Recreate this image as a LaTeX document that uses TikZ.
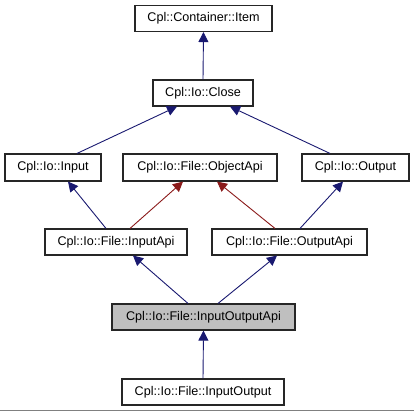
\documentclass[tikz,border=0pt]{standalone}
\usepackage{fontspec}
\setmainfont{Liberation Sans}
\usetikzlibrary{arrows.meta}
\definecolor{edgeblue}{HTML}{191970}
\definecolor{edgered}{HTML}{8B1A1A}
\begin{document}
\begin{tikzpicture}[x=1pt,y=-1pt,
  cls/.style={draw=black!85,line width=1.1pt,fill=white,inner sep=0pt,font=\fontsize{12.6}{14}\selectfont,minimum height=26pt},
  cur/.style={cls,fill=black!25},
  pub/.style={draw=edgeblue,line width=0.9pt,-{Triangle[length=10pt,width=10pt]}},
  prot/.style={draw=edgered,line width=0.9pt,-{Triangle[length=10pt,width=10pt]},edgered}]
\useasboundingbox (0,0) rectangle (414,411);
\draw[black!50,line width=1pt] (0,410) -- (414,410);
\node[cls,minimum width=137pt] (item) at (203.5,18.5) {Cpl::Container::Item};
\node[cls,minimum width=100pt] (close) at (203,93) {Cpl::Io::Close};
\node[cls,minimum width=96pt,minimum height=27pt] (input) at (53,167.5) {Cpl::Io::Input};
\node[cls,minimum width=154pt,minimum height=27pt] (objapi) at (200,167.5) {Cpl::Io::File::ObjectApi};
\node[cls,minimum width=107pt,minimum height=27pt] (output) at (355.5,167.5) {Cpl::Io::Output};
\node[cls,minimum width=142pt] (inpapi) at (116,242) {Cpl::Io::File::InputApi};
\node[cls,minimum width=155pt] (outapi) at (289.5,242) {Cpl::Io::File::OutputApi};
\node[cur,minimum width=183pt] (ioapi) at (203.5,317) {Cpl::Io::File::InputOutputApi};
\node[cls,minimum width=162pt] (io) at (203,392) {Cpl::Io::File::InputOutput};
\draw[pub,edgeblue] (close.north) -- (item.south);
\draw[pub,edgeblue] ([xshift=24pt]input.north) -- ([xshift=-26pt]close.south);
\draw[pub,edgeblue] ([xshift=-25.5pt]output.north) -- ([xshift=27pt]close.south);
\draw[pub,edgeblue] ([xshift=-10pt]inpapi.north) -- ([xshift=15pt]input.south);
\draw[prot] ([xshift=14pt]inpapi.north) -- ([xshift=-17pt]objapi.south);
\draw[prot] ([xshift=-14.5pt]outapi.north) -- ([xshift=17pt]objapi.south);
\draw[pub,edgeblue] ([xshift=10.5pt]outapi.north) -- ([xshift=-12.5pt]output.south);
\draw[pub,edgeblue] ([xshift=-15.5pt]ioapi.north) -- ([xshift=17pt]inpapi.south);
\draw[pub,edgeblue] ([xshift=14.5pt]ioapi.north) -- ([xshift=-12.5pt]outapi.south);
\draw[pub,edgeblue] (io.north) -- (ioapi.south);
\end{tikzpicture}
\end{document}
